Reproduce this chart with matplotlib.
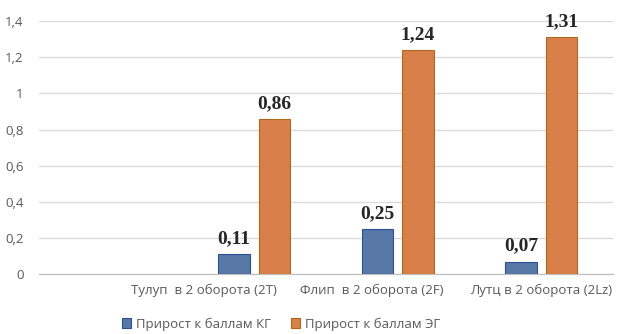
import matplotlib
matplotlib.use("Agg")
import matplotlib.pyplot as plt
import numpy as np

categories = ["", "Тулуп  в 2 оборота (2Т)", "Флип  в 2 оборота (2F)", "Лутц в 2 оборота (2Lz)"]
kg_values = [np.nan, 0.11, 0.25, 0.07]
eg_values = [np.nan, 0.86, 1.24, 1.31]
series_names = ["Прирост к баллам КГ", "Прирост к баллам ЭГ"]
y_ticks = [0, 0.2, 0.4, 0.6, 0.8, 1.0, 1.2, 1.4]
y_tick_labels = ["0", "0,2", "0,4", "0,6", "0,8", "1", "1,2", "1,4"]

plt.rcParams['font.family'] = ['Open Sans', 'DejaVu Sans']

fig = plt.figure(figsize=(6.18, 3.34), dpi=100)
ax = fig.add_axes([0.063, 0.179, 0.929, 0.758])

x = np.arange(len(categories))
w = 0.22
gap = 0.03
b1 = ax.bar(x - w / 2 - gap, kg_values, w, color="#5878a8", edgecolor="#2d5090",
            linewidth=0.8, label=series_names[0], zorder=3)
b2 = ax.bar(x + w / 2 + gap, eg_values, w, color="#d97f4a", edgecolor="#b0681a",
            linewidth=0.8, label=series_names[1], zorder=3)

def fmt(v):
    return ("%.2f" % v).replace(".", ",")

for bars, vals in ((b1, kg_values), (b2, eg_values)):
    for rect, v in zip(bars, vals):
        if np.isnan(v):
            continue
        ax.annotate(fmt(v), (rect.get_x() + rect.get_width() / 2, v),
                    xytext=(0, 5), textcoords="offset points", ha="center", va="bottom",
                    fontsize=14, fontweight="bold", family="Liberation Serif",
                    color="#262626", clip_on=False, annotation_clip=False)

ax.set_xlim(-0.5, len(categories) - 0.5)
ax.set_ylim(0, 1.4)
ax.set_yticks(y_ticks)
ax.set_yticklabels(y_tick_labels)
ax.grid(axis="y", color="#d9d9d9", linewidth=0.9, zorder=0)
ax.set_axisbelow(True)

label_shift = [0, -0.35, -0.18, 0.0]
ax.set_xticks(x + np.array(label_shift))
ax.set_xticklabels(categories)
ax.tick_params(axis="both", length=0, labelsize=9.5, colors="#595959")
ax.tick_params(axis="x", pad=7)
ax.tick_params(axis="y", pad=11)
for lbl in ax.get_yticklabels():
    lbl.set_horizontalalignment("right")

for s in ("top", "right", "left"):
    ax.spines[s].set_visible(False)
ax.spines["bottom"].set_color("#bfbfbf")
ax.spines["bottom"].set_linewidth(0.9)

leg = fig.legend(handles=[b1, b2], loc="center", bbox_to_anchor=(0.455, 0.03), ncol=2,
                 frameon=False, fontsize=9.5, handlelength=0.7, handleheight=0.7,
                 handletextpad=0.4, columnspacing=1.5)
for t in leg.get_texts():
    t.set_color("#595959")

fig.savefig("out.png", dpi=100)
